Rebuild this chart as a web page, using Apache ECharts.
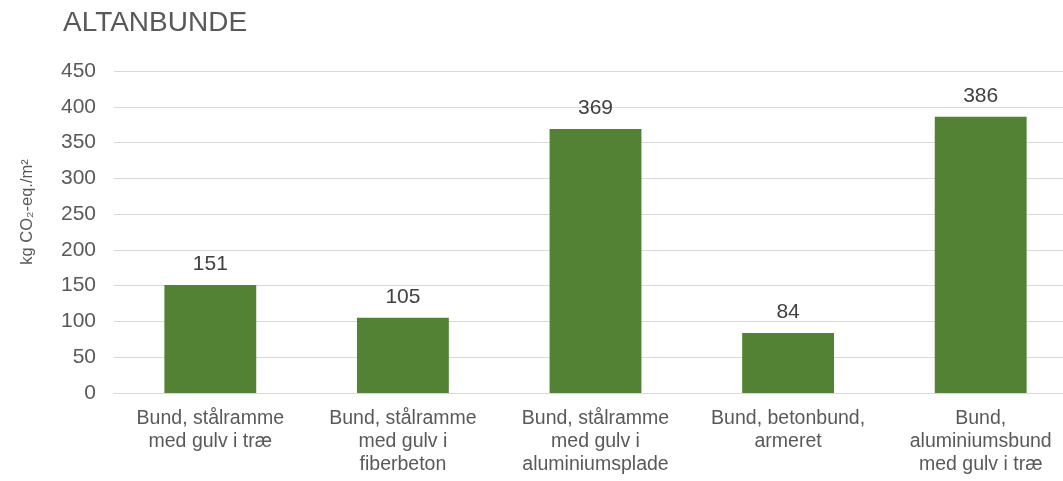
<!DOCTYPE html>
<html>
<head>
<meta charset="utf-8">
<script src="https://cdn.jsdelivr.net/npm/echarts@6/dist/echarts.min.js"></script>
<style>
  html, body { margin: 0; padding: 0; background: #fff; overflow: hidden; }
  /* plotområdet går lidt ud over højre kant, som i originalen */
  #charts { width: 1077px; height: 481px; }
</style>
</head>
<body>
<div id="charts"></div>
<script>
// kategorier og værdier
var categories = [
    'Bund, stålramme\nmed gulv i træ',
    'Bund, stålramme\nmed gulv i\nfiberbeton',
    'Bund, stålramme\nmed gulv i\naluminiumsplade',
    'Bund, betonbund,\narmeret',
    'Bund,\naluminiumsbund\nmed gulv i træ'
];
var values = [151, 105, 369, 84, 386];
var yTicks = { min: 0, max: 450, interval: 50 };

var font = 'Liberation Sans, Arial, sans-serif';
var myChart = echarts.init(document.getElementById('charts'));

var option = {
    animation: false,
    textStyle: { fontFamily: font },
    title: {
        text: 'ALTANBUNDE',
        left: 58,
        top: 4,
        textStyle: { fontFamily: font, fontSize: 28, fontWeight: 'normal', color: '#595959' }
    },
    grid: { left: 114, right: 0, top: 71, bottom: 88 },
    xAxis: {
        type: 'category',
        data: categories,
        axisLine: { lineStyle: { color: '#d9d9d9', width: 1 } },
        axisTick: { show: false },
        axisLabel: { color: '#595959', fontSize: 19.5, lineHeight: 23, margin: 14, interval: 0 }
    },
    yAxis: {
        type: 'value',
        min: yTicks.min,
        max: yTicks.max,
        interval: yTicks.interval,
        name: 'kg CO₂-eq./m²',
        nameLocation: 'middle',
        nameGap: 78,
        nameRotate: 90,
        nameTextStyle: { color: '#595959', fontSize: 16.5, padding: [0, 0, 0, 40] },
        axisLine: { show: false },
        axisTick: { show: false },
        splitLine: { lineStyle: { color: '#d9d9d9', width: 1 } },
        axisLabel: { color: '#595959', fontSize: 21, margin: 18 }
    },
    series: [{
        type: 'bar',
        data: values,
        barWidth: '47.7%',
        itemStyle: { color: '#548235' },
        label: { show: true, position: 'top', distance: 10, color: '#404040', fontSize: 21 }
    }]
};

myChart.setOption(option);
</script>
</body>
</html>
